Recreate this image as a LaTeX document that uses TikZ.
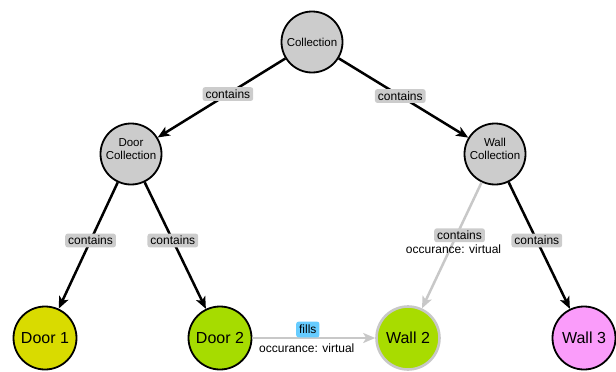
\documentclass[tikz,border=0pt]{standalone}
\usepackage{fontspec}
\setmainfont{Liberation Sans}
\usetikzlibrary{arrows.meta,positioning}
\definecolor{nodegray}{HTML}{CCCCCC}
\definecolor{lblgray}{HTML}{CCCCCC}
\definecolor{arrowgray}{HTML}{C8C8C8}
\definecolor{fillblue}{HTML}{66CCFF}
\definecolor{dooryellow}{HTML}{D9DB00}
\definecolor{doorgreen}{HTML}{A6DC00}
\definecolor{wallgreen}{HTML}{A8DC00}
\definecolor{wallpink}{HTML}{FA9CFA}
\begin{document}
\begin{tikzpicture}[x=1pt,y=-1pt,
  circ/.style={circle,draw=black,line width=1.8pt,minimum size=61pt,inner sep=0pt,
    align=center,font=\fontsize{11.5}{13.5}\selectfont,fill=nodegray},
  ctext/.style={inner sep=0pt,align=center,font=\fontsize{11.5}{13.5}\selectfont},
  leaf/.style={circ,minimum size=63pt,font=\fontsize{16}{18}\selectfont},
  lbl/.style={fill=lblgray,rounded corners=2.5pt,inner xsep=3pt,inner ysep=2.5pt,
    font=\fontsize{12}{14}\selectfont},
  plain/.style={inner sep=1pt,font=\fontsize{12}{14}\selectfont},
  rel/.style={line width=2.5pt,-{Stealth[length=12pt,width=10pt,inset=3pt]}},
  vrel/.style={rel,draw=arrowgray}]
\useasboundingbox (0,0) rectangle (616,372);
\node[circ] (coll) at (312,42) {Collection};
\node[circ] (dcoll) at (131,154) {};
\node[ctext] (dcollt) at ([yshift=5pt]dcoll.center) {Door\\Collection};
\node[circ] (wcoll) at (495,154) {};
\node[ctext] (wcollt) at ([yshift=5pt]wcoll.center) {Wall\\Collection};
\node[leaf,fill=dooryellow] (d1) at (45,338) {Door 1};
\node[leaf,fill=doorgreen] (d2) at (220,338) {Door 2};
\node[leaf,fill=wallgreen,draw=arrowgray,line width=2.6pt] (w2) at (408,338) {Wall 2};
\node[leaf,fill=wallpink] (w3) at (584,338) {Wall 3};

\draw[rel] (coll) -- (dcoll) node[lbl,pos=0.45] {contains};
\draw[rel] (coll) -- (wcoll) node[lbl,pos=0.475] {contains};
\draw[rel] (dcoll) -- (d1) node[lbl,pos=0.46] {contains};
\draw[rel] (dcoll) -- (d2) node[lbl,pos=0.46] {contains};
\draw[rel] (wcoll) -- (w3) node[lbl,pos=0.46] {contains};
\draw[vrel] (wcoll) -- (w2) node[lbl,pos=0.42,xshift=3pt] (l5) {contains};
\node[plain,below=0pt of l5,xshift=-6pt] (l5b) {occurance: virtual};
\draw[vrel] (d2) -- (w2)
  node[lbl,fill=fillblue,midway,xshift=-6pt,yshift=8.5pt,inner xsep=3pt,inner ysep=3.5pt] (l7) {fills}
  node[plain,midway,xshift=-7pt,yshift=-10pt] (l7b) {occurance: virtual};
\end{tikzpicture}
\end{document}
